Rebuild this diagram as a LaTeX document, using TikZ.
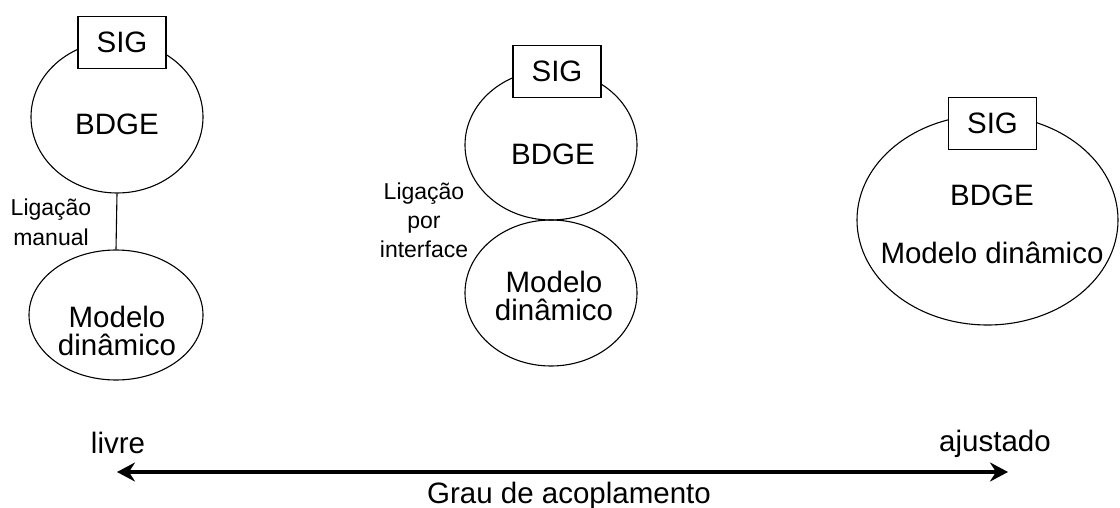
\documentclass[tikz,border=0pt]{standalone}
\usepackage{fontspec}
\setmainfont{Liberation Sans}
\usetikzlibrary{arrows.meta,shapes.geometric}
\begin{document}
\begin{tikzpicture}[x=1pt,y=-1pt,
  big/.style={font=\fontsize{29.5}{30}\selectfont, inner sep=0pt, anchor=base},
  small/.style={font=\fontsize{23}{28}\selectfont, inner sep=0pt, anchor=base},
  sigbox/.style={draw, fill=white, line width=1.1pt, minimum width=88pt, minimum height=52pt, inner sep=0pt, font=\fontsize{29.5}{30}\selectfont},
  oval/.style={draw, ellipse, line width=1.1pt, inner sep=0pt}]
\useasboundingbox (0,0) rectangle (1120,508);

% left column
\node[oval, minimum width=172pt, minimum height=152pt] (e1) at (117,117) {};
\node[oval, minimum width=174pt, minimum height=130pt] (m1) at (116,315) {};
\draw[line width=1.1pt] (e1.south) -- (m1.north);
\node[sigbox] (s1) at (122,42.5) {SIG};
\node[big] (t1) at (117,135) {BDGE};
\node[big] (t2) at (117,327.5) {Modelo};
\node[big] (t3) at (117,355) {dinâmico};
\node[small] (l1) at (51,215) {Ligação};
\node[small] (l2) at (51,245) {manual};

% middle column
\node[oval, minimum width=172pt, minimum height=150pt] (e2) at (551,145) {};
\node[oval, minimum width=172pt, minimum height=146pt] (m2) at (551,293) {};
\node[sigbox] (s2) at (557,71.5) {SIG};
\node[big] (t4) at (553,165) {BDGE};
\node[big] (t5) at (554,292) {Modelo};
\node[big] (t6) at (554,320) {dinâmico};
\node[small] (l3) at (424,200) {Ligação};
\node[small] (l4) at (424,229) {por};
\node[small] (l5) at (424,258) {interface};

% right column
\node[oval, minimum width=261pt, minimum height=210pt] (e3) at (987.5,220) {};
\node[sigbox] (s3) at (992.5,123.5) {SIG};
\node[big] (t7) at (992,205) {BDGE};
\node[big] (t8) at (992,263) {Modelo dinâmico};

% axis
\coordinate (al) at (117,472);
\coordinate (ar) at (1008,472);
\draw[line width=3.5pt, {Stealth[length=18pt,width=19pt,inset=6pt]}-{Stealth[length=18pt,width=19pt,inset=6pt]}] (al) -- (ar);
\node[big] (livre) at (118,453) {livre};
\node[big] (ajus) at (995,451) {ajustado};
\node[big] (grau) at (569,503) {Grau de acoplamento};
\end{tikzpicture}
\end{document}
